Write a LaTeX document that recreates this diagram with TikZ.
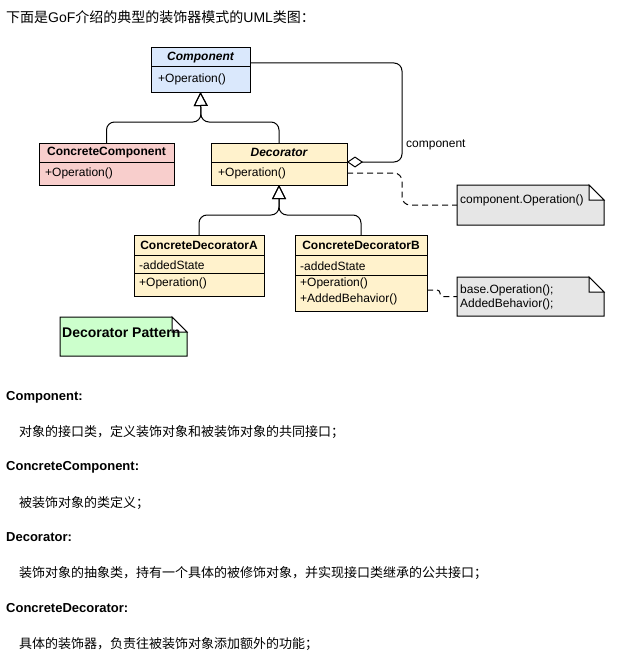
\documentclass[tikz,border=0pt]{standalone}
\usepackage{fontspec}
\setmainfont{Liberation Sans}
\newfontfamily\cjk{Noto Sans CJK SC}
\usetikzlibrary{arrows.meta,calc}
\definecolor{cblue}{HTML}{DAE8FC}
\definecolor{cpink}{HTML}{F8CECC}
\definecolor{cyel}{HTML}{FFF2CC}
\definecolor{cgray}{HTML}{E6E6E6}
\definecolor{cgreen}{HTML}{CCFFCC}
\newcommand{\dogear}[2]{%
  \draw[line width=1pt, fill=#2] (#1.north west) -- ($(#1.north east)+(-15,0)$) -- ($(#1.north east)+(0,15)$) -- (#1.south east) -- (#1.south west) -- cycle;
  \draw[line width=1pt, fill=white] ($(#1.north east)+(-15,0)$) -- ++(0,15) -- ++(15,0) -- cycle;}
\begin{document}
\begin{tikzpicture}[x=1pt,y=-1pt,
  box/.style={draw=black, line width=1pt, anchor=north west, inner sep=0pt, outer sep=0pt},
  hdr/.style={font=\fontsize{12}{14}\selectfont\bfseries},
  hdri/.style={font=\fontsize{12}{14}\selectfont\bfseries\itshape},
  mem/.style={font=\fontsize{12}{14}\selectfont, anchor=west, inner sep=0pt},
  lbl/.style={font=\fontsize{13}{16}\selectfont\bfseries, anchor=west, inner sep=0pt},
  desc/.style={font=\fontsize{13}{16}\selectfont\cjk, anchor=west, inner sep=0pt},
  notebox/.style={anchor=north west, inner sep=0pt, outer sep=0pt},
  gen/.style={line width=1pt, rounded corners=8pt, -{Triangle[open, length=14pt, width=14pt, line width=1pt]}},
  agg/.style={line width=1pt, rounded corners=8pt, {Diamond[fill=white, length=16pt, width=11pt, line width=1pt]}-},
  notelink/.style={line width=1pt, dash pattern=on 6pt off 4pt, rounded corners=8pt}
]
\useasboundingbox (0,0) rectangle (628,669);
\fill[white] (0,0) rectangle (628,669);

% title
\node[anchor=west, inner sep=0pt, font=\fontsize{14}{16}\selectfont] (title) at (6,17)
  {{\cjk 下面是}GoF{\cjk 介绍的典型的装饰器模式的}UML{\cjk 类图：}};

% Component
\node[box, fill=cblue, minimum width=99pt, minimum height=19pt, hdri] (compH) at (151,48) {Component};
\node[box, fill=cblue, minimum width=99pt, minimum height=25pt] (compB) at (151,67) {};
\node[mem] (compOp) at (158,79) {+Operation()};

% ConcreteComponent
\node[box, fill=cpink, minimum width=135pt, minimum height=19pt, hdr] (ccH) at (39,143) {ConcreteComponent};
\node[box, fill=cpink, minimum width=135pt, minimum height=23pt] (ccB) at (39,162) {};
\node[mem] (ccOp) at (45,173) {+Operation()};

% Decorator
\node[box, fill=cyel, minimum width=136pt, minimum height=19pt, hdri] (decH) at (211,143) {Decorator};
\node[box, fill=cyel, minimum width=136pt, minimum height=23pt] (decB) at (211,162) {};
\node[mem] (decOp) at (218,173) {+Operation()};

% ConcreteDecoratorA
\node[box, fill=cyel, minimum width=130pt, minimum height=20pt, hdr] (caH) at (134,235) {ConcreteDecoratorA};
\node[box, fill=cyel, minimum width=130pt, minimum height=18pt] (caA) at (134,255) {};
\node[box, fill=cyel, minimum width=130pt, minimum height=23pt] (caO) at (134,273) {};
\node[mem] (caAtt) at (139,265) {-addedState};
\node[mem] (caOp) at (139,283) {+Operation()};

% ConcreteDecoratorB
\node[box, fill=cyel, minimum width=132pt, minimum height=20pt, hdr] (cbH) at (295,235) {ConcreteDecoratorB};
\node[box, fill=cyel, minimum width=132pt, minimum height=20pt] (cbA) at (295,255) {};
\node[box, fill=cyel, minimum width=132pt, minimum height=36pt] (cbO) at (295,275) {};
\node[mem] (cbAtt) at (300,266) {-addedState};
\node[mem] (cbOp) at (300,283) {+Operation()};
\node[mem] (cbAB) at (300,299) {+AddedBehavior()};

% notes
\node[notebox, minimum width=147pt, minimum height=40pt] (note1) at (457,185) {};
\dogear{note1}{cgray}
\node[mem] (note1t) at (460,200) {component.Operation()};

\node[notebox, minimum width=147pt, minimum height=39pt] (note2) at (457,277) {};
\dogear{note2}{cgray}
\node[mem] (note2a) at (460,290) {base.Operation();};
\node[mem] (note2b) at (460,304) {AddedBehavior();};

\node[notebox, minimum width=127pt, minimum height=39pt] (dp) at (60,317) {};
\dogear{dp}{cgreen}
\node[anchor=west, inner sep=0pt, font=\fontsize{14}{16}\selectfont\bfseries] (dpt) at (62,333) {Decorator Pattern};

% connectors
\coordinate (j1) at (201,122);
\coordinate (j2) at (279,215);
\draw[gen] (ccH.north) |- (j1) -- (compB.south);
\draw[gen] (decH.north) |- (j1) -- (compB.south);
\draw[gen] (caH.north) |- (j2) -- (decB.south);
\draw[gen] (cbH.north) |- (j2) -- (decB.south);

\coordinate (aggE) at (250,63);
\draw[agg] (decH.south east) -- (402,162) -- (402,63) -- (aggE);
\node[mem] (aggLbl) at (406,145) {component};

\coordinate (n1s) at (347,173);
\draw[notelink] (n1s) -- (402,173) -- (402,205) -- (note1.west);
\coordinate (n2s) at (427,290);
\draw[notelink, rounded corners=3pt] (n2s) -- (440,290) -- (440,296.5) -- (note2.west);

% descriptions
\node[lbl] (tComp) at (6,397) {Component:};
\node[desc] (dComp) at (19,432) {对象的接口类，定义装饰对象和被装饰对象的共同接口；};
\node[lbl] (tCC) at (6,467) {ConcreteComponent:};
\node[desc] (dCC) at (19,503) {被装饰对象的类定义；};
\node[lbl] (tDec) at (6,537) {Decorator:};
\node[desc] (dDec) at (19,573) {装饰对象的抽象类，持有一个具体的被修饰对象，并实现接口类继承的公共接口；};
\node[lbl] (tCD) at (6,608) {ConcreteDecorator:};
\node[desc] (dCD) at (19,644) {具体的装饰器，负责往被装饰对象添加额外的功能；};
\end{tikzpicture}
\end{document}
